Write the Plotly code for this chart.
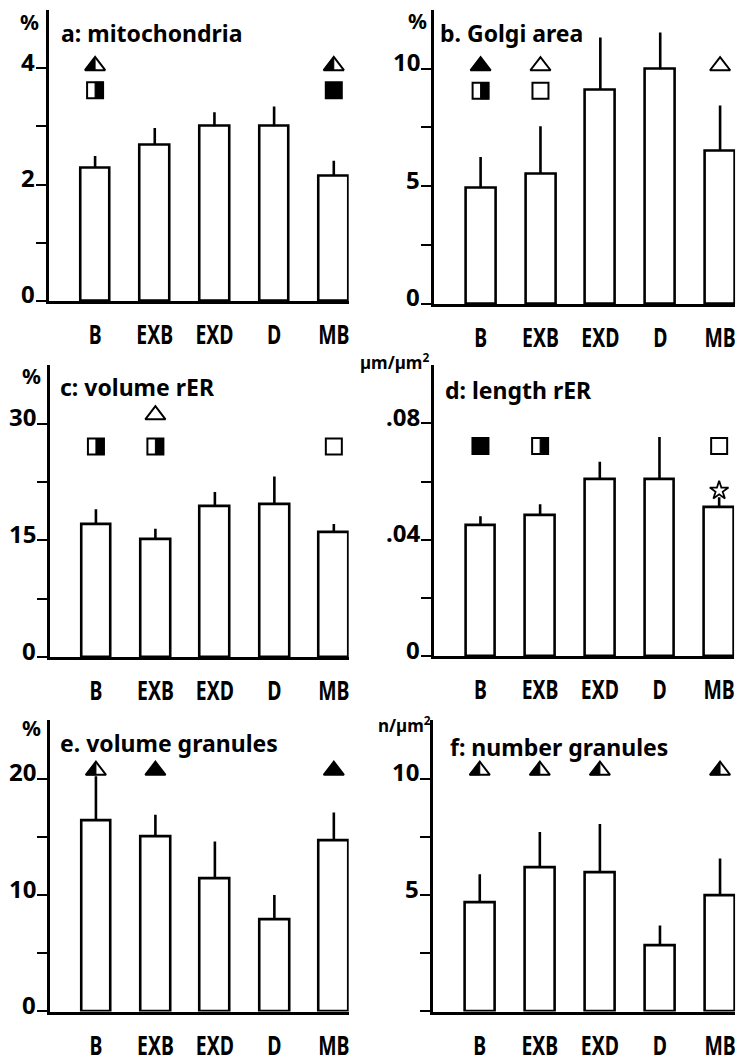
import math
import plotly.graph_objects as go

# ---------------- data ----------------
categories = ["B", "EXB", "EXD", "D", "MB"]

mito_mean = [2.29, 2.68, 3.00, 3.00, 2.15]
mito_upper = [2.49, 2.97, 3.24, 3.34, 2.41]
golgi_mean = [4.95, 5.54, 9.10, 9.98, 6.50]
golgi_upper = [6.25, 7.55, 11.33, 11.54, 8.43]
vol_rer_mean = [17.1, 15.1, 19.4, 19.6, 16.1]
vol_rer_upper = [19.0, 16.5, 21.2, 23.2, 17.1]
len_rer_mean = [0.0451, 0.0485, 0.0607, 0.0607, 0.0512]
len_rer_upper = [0.0481, 0.0522, 0.0668, 0.0753, 0.0546]
vol_gran_mean = [16.4, 15.0, 11.4, 7.9, 14.7]
vol_gran_upper = [20.2, 16.9, 14.6, 10.0, 17.1]
num_gran_mean = [4.70, 6.19, 5.97, 2.84, 5.00]
num_gran_upper = [5.89, 7.71, 8.05, 3.69, 6.57]

titles = ["a: mitochondria", "b. Golgi area", "c: volume rER",
          "d: length rER", "e. volume granules", "f: number granules"]
units = ["%", "%", "%", "µm/µm<sup>2</sup>", "%", "n/µm<sup>2</sup>"]

y_tickvals = [[0, 1, 2, 3, 4], [0, 2.5, 5, 7.5, 10], [0, 7.5, 15, 22.5, 30],
              [0, 0.02, 0.04, 0.06, 0.08], [0, 5, 10, 15, 20], [0, 2.5, 5, 7.5, 10]]
y_labelvals = [[0, 2, 4], [0, 5, 10], [0, 15, 30], [0, 0.04, 0.08], [0, 10, 20], [5, 10]]
y_labeltext = [["0", "2", "4"], ["0", "5", "10"], ["0", "15", "30"],
               ["0", ".04", ".08"], ["0", "10", "20"], ["5", "10"]]
y_max = [5, 12.5, 37.5, 0.1, 25, 12.5]

# significance symbols per panel: (category, symbol, fill)
sym_a = [("B", "tri", "half"), ("MB", "tri", "half"), ("B", "sq", "half"), ("MB", "sq", "full")]
sym_b = [("B", "tri", "full"), ("EXB", "tri", "open"), ("MB", "tri", "open"),
         ("B", "sq", "half"), ("EXB", "sq", "open")]
sym_c = [("EXB", "tri", "open"), ("B", "sq", "half"), ("EXB", "sq", "half"), ("MB", "sq", "open")]
sym_d = [("B", "sq", "full"), ("EXB", "sq", "half"), ("MB", "sq", "open"), ("MB", "star", "open")]
sym_e = [("B", "tri", "half"), ("EXB", "tri", "full"), ("MB", "tri", "full")]
sym_f = [("B", "tri", "half"), ("EXB", "tri", "half"), ("EXD", "tri", "half"), ("MB", "tri", "half")]

# vertical level (data units) of each symbol row
sym_rows = [
    {"tri": 4.04, "sq": 3.62},
    {"tri": 10.12, "sq": 9.06},
    {"tri": 31.1, "sq": 27.05},
    {"sq": 0.0722, "star": 0.0569},
    {"tri": 20.7},
    {"tri": 10.35},
]

means = [mito_mean, golgi_mean, vol_rer_mean, len_rer_mean, vol_gran_mean, num_gran_mean]
uppers = [mito_upper, golgi_upper, vol_rer_upper, len_rer_upper, vol_gran_upper, num_gran_upper]
symbols = [sym_a, sym_b, sym_c, sym_d, sym_e, sym_f]

# ---------------- layout geometry (pixels) ----------------
W, H = 748, 1063
x_px = [(49, 352), (438, 742), (50, 352), (438, 741), (50, 352), (437, 742)]
y_px = [(10, 305), (10, 308), (370, 666), (370, 665), (730, 1025), (730, 1025)]
title_px = [(60, 33), (442, 33), (59, 392), (447, 395), (59, 753), (452, 757)]
unit_px = [(41, 22), (433, 21), (43, 381), (435, 366), (43, 738), (437, 734)]
X_RANGE = [-0.78, 4.25]

FONT = "Noto Sans, Roboto, Liberation Sans, sans-serif"
LW = 2.6


def px2paper(x, y):
    return x / W, 1 - y / H


fig = go.Figure()
shapes = []
annotations = []
xpos = {c: i for i, c in enumerate(categories)}

for k in range(6):
    xa = "x" if k == 0 else f"x{k+1}"
    ya = "y" if k == 0 else f"y{k+1}"
    mean = means[k]
    up = uppers[k]
    fig.add_trace(go.Bar(
        x=list(range(len(categories))), y=mean, width=0.5,
        marker=dict(color="white", line=dict(color="black", width=LW)),
        error_y=dict(type="data", symmetric=False,
                     array=[u - m for u, m in zip(up, mean)],
                     arrayminus=[0] * len(mean),
                     color="black", thickness=LW, width=0),
        xaxis=xa, yaxis=ya, showlegend=False, hoverinfo="skip"))

    # symbols
    for cat, sym, fill in symbols[k]:
        yv = sym_rows[k][sym]
        xv = xpos[cat]
        if sym == "star":
            fig.add_trace(go.Scatter(
                x=[xv], y=[yv], mode="markers", xaxis=xa, yaxis=ya,
                marker=dict(symbol="star", size=14, color="white",
                            line=dict(color="black", width=1.8)),
                showlegend=False, hoverinfo="skip"))
            continue
        psym = "triangle-up" if sym == "tri" else "square"
        size = 17.5 if sym == "tri" else 16
        fig.add_trace(go.Scatter(
            x=[xv], y=[yv], mode="markers", xaxis=xa, yaxis=ya,
            marker=dict(symbol=psym, size=size,
                        color="black" if fill == "full" else "white",
                        line=dict(color="black", width=2)),
            showlegend=False, hoverinfo="skip"))
        if fill == "half":
            r = size / 2
            if sym == "tri":
                rt = r * 2 / math.sqrt(3)
                path = f"M{-rt:.2f},{-r/2:.2f} L0,{-r/2:.2f} L0,{r:.2f} Z"
            else:
                path = f"M0,{-r:.2f} L{r:.2f},{-r:.2f} L{r:.2f},{r:.2f} L0,{r:.2f} Z"
            shapes.append(dict(type="path", xref=xa, yref=ya,
                               xsizemode="pixel", ysizemode="pixel",
                               xanchor=xv, yanchor=yv, path=path,
                               fillcolor="black", line=dict(color="black", width=1),
                               layer="above"))

    # axes
    x0, x1 = x_px[k]
    t, b = y_px[k]
    xd = [x0 / W, x1 / W]
    yd = [1 - b / H, 1 - t / H]
    axis_suffix = "" if k == 0 else str(k + 1)
    fig.update_layout(**{
        f"xaxis{axis_suffix}": dict(
            domain=xd, range=X_RANGE, anchor=ya,
            tickvals=list(range(len(categories))), ticktext=categories,
            showline=True, linecolor="black", linewidth=LW, ticks="",
            showgrid=False, zeroline=False, ticklabelstandoff=8,
            tickfont=dict(family=FONT, size=27, color="black", weight=700)),
        f"yaxis{axis_suffix}": dict(
            domain=yd, range=[0, y_max[k]], anchor=xa,
            tickvals=y_tickvals[k], showticklabels=False,
            showline=True, linecolor="black", linewidth=LW,
            ticks="outside", ticklen=10, tickwidth=2, tickcolor="black",
            showgrid=False, zeroline=False),
    })

    # y tick labels: sitting just above their tick, left of the axis
    for v, txt in zip(y_labelvals[k], y_labeltext[k]):
        annotations.append(dict(text=txt, x=0, y=v, xref=f"{xa} domain", yref=ya,
                                xanchor="right", yanchor="middle", xshift=-12, yshift=7,
                                showarrow=False,
                                font=dict(family=FONT, size=24, color="black", weight=700)))

    tx, ty = px2paper(*title_px[k])
    annotations.append(dict(text=titles[k], x=tx, y=ty, xref="paper", yref="paper",
                            xanchor="left", yanchor="middle", showarrow=False,
                            font=dict(family=FONT, size=23, color="black", weight=700)))
    ux, uy = px2paper(*unit_px[k])
    annotations.append(dict(text=units[k], x=ux, y=uy, xref="paper", yref="paper",
                            xanchor="right", yanchor="middle", showarrow=False,
                            font=dict(family=FONT, size=21 if units[k] == "%" else 17,
                                      color="black", weight=700)))

fig.update_layout(width=W, height=H, margin=dict(l=0, r=0, t=0, b=0),
                  paper_bgcolor="white", plot_bgcolor="white",
                  shapes=shapes, annotations=annotations, bargap=0)

# page body without default margin; condensed category labels (centre-anchored)
POST = """
document.body.style.margin = '0';
document.body.style.overflow = 'hidden';
document.querySelectorAll('.main-svg .xaxislayer-above text').forEach(function (t) {
  var w = t.getComputedTextLength();
  if (w > 0) {
    t.setAttribute('textLength', (w * 0.72).toFixed(1));
    t.setAttribute('lengthAdjust', 'spacingAndGlyphs');
  }
});
"""

fig.write_html("out.html", post_script=POST, config={"displayModeBar": False})
